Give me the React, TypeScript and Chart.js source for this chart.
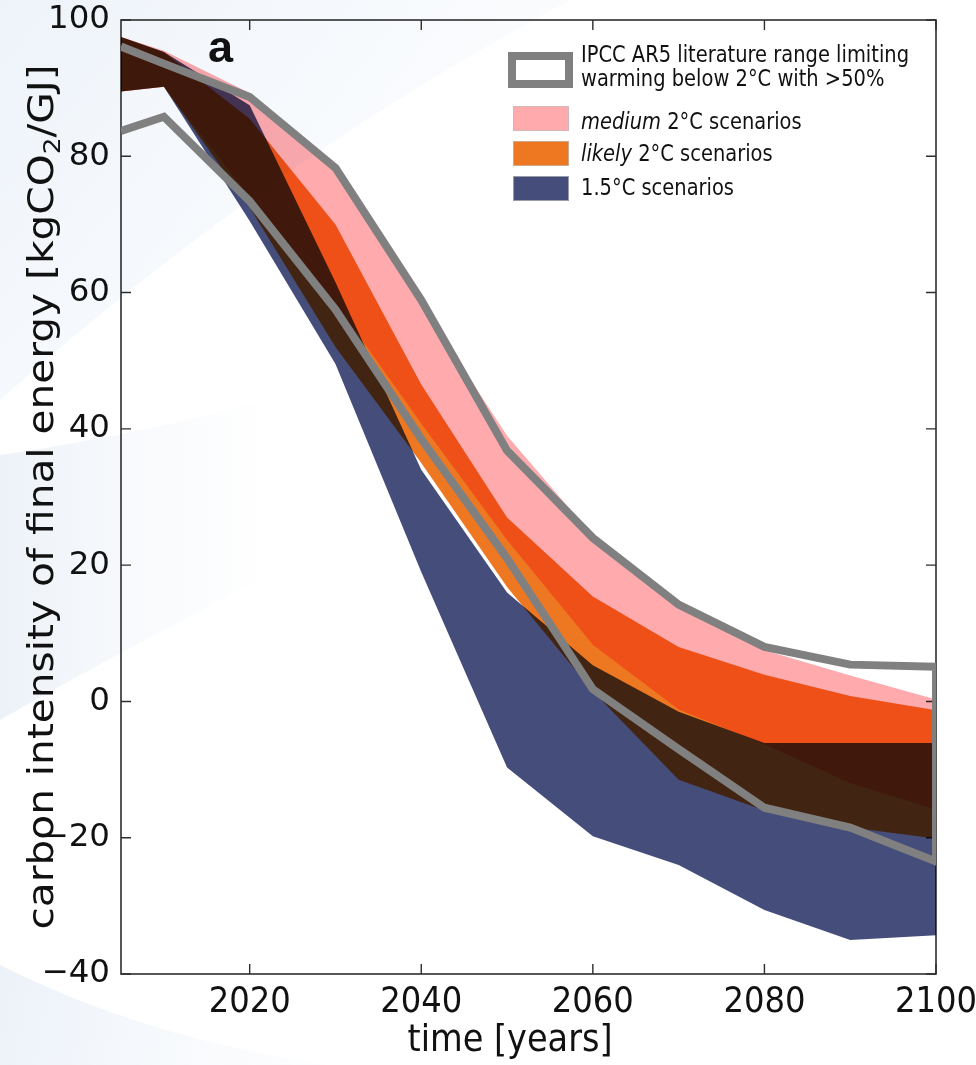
import { useEffect, useRef } from 'react';
import { Chart, registerables } from 'chart.js';

Chart.register(...registerables);

const W = 976;
const H = 1065;

// Scenario years shared by every range
const YEARS = [2005, 2010, 2020, 2030, 2040, 2050, 2060, 2070, 2080, 2090, 2100];

// IPCC AR5 literature range limiting warming below 2°C with >50% (outline)
const AR5_UPPER = [96.1, 93.6, 88.7, 78.3, 58.9, 36.8, 24.0, 14.2, 8.0, 5.4, 5.1];
const AR5_LOWER = [83.7, 85.8, 73.4, 57.5, 38.5, 21.0, 1.8, -7.0, -15.6, -18.5, -23.5];

// medium 2°C scenarios
const MEDIUM_UPPER = [97.5, 95.5, 89.3, 77.8, 58.3, 39.0, 24.3, 13.8, 7.5, 3.8, 0.3];
const MEDIUM_LOWER = [89.5, 90.2, 74.0, 58.5, 40.8, 23.7, 8.3, -1.2, -6.3, -12.0, -15.9];

// likely 2°C scenarios
const LIKELY_UPPER = [97.5, 95.3, 85.5, 70.0, 46.5, 27.0, 15.4, 8.0, 3.9, 0.8, -1.3];
const LIKELY_LOWER = [89.5, 90.2, 72.5, 52.0, 35.0, 16.8, 1.5, -11.5, -16.0, -18.5, -20.1];

// 1.5°C scenarios
const C15_UPPER = [97.5, 95.3, 87.5, 61.5, 34.0, 16.0, 5.3, -1.5, -6.1, -6.1, -6.1];
const C15_LOWER = [89.5, 90.2, 70.5, 49.5, 19.0, -9.7, -19.8, -24.0, -30.6, -35.0, -34.3];

const X_TICKS = [2020, 2040, 2060, 2080, 2100];
const Y_TICKS = [-40, -20, 0, 20, 40, 60, 80, 100];

const X_TITLE = 'time [years]';
const Y_TITLE_PARTS = [
  { text: 'carbon intensity of final energy [kgCO', sub: false },
  { text: '2', sub: true },
  { text: '/GJ]', sub: false },
];
const PANEL_LABEL = 'a';
const LEGEND_OUTLINE_LINES = ['IPCC AR5 literature range limiting', 'warming below 2°C with >50%'];

const PINK = '#ffaaad';
const ORANGE = '#ee7722';
const NAVY = '#454d7a';
const GRAY = '#808080';
const INK = '#111111';

const LEGEND_BANDS = [
  { color: PINK, emphasis: 'medium', rest: ' 2°C scenarios' },
  { color: ORANGE, emphasis: 'likely', rest: ' 2°C scenarios' },
  { color: NAVY, emphasis: '', rest: '1.5°C scenarios' },
];

const PROBE = 'Hamburgefonstiv 0123456789 [kgCO/GJ]';

function measureCtx(): CanvasRenderingContext2D {
  return document.createElement('canvas').getContext('2d') as CanvasRenderingContext2D;
}

function hasFamily(family: string): boolean {
  const ctx = measureCtx();
  return ['monospace', 'serif'].some((base) => {
    ctx.font = `40px ${base}`;
    const ref = ctx.measureText(PROBE).width;
    ctx.font = `40px "${family}", ${base}`;
    return Math.abs(ctx.measureText(PROBE).width - ref) > 0.5;
  });
}

function pickFamily(candidates: string[], fallback: string): string {
  for (const f of candidates) if (hasFamily(f)) return f;
  return fallback;
}

// font size that makes `text` span `target` pixels
function fitSize(text: string, family: string, target: number): number {
  const ctx = measureCtx();
  ctx.font = `100px "${family}"`;
  return (100 * target) / ctx.measureText(text).width;
}

const points = (ys: number[]) => YEARS.map((x, i) => ({ x, y: ys[i] }));

function paintBackdrop(ctx: CanvasRenderingContext2D) {
  ctx.save();
  ctx.fillStyle = '#ffffff';
  ctx.fillRect(0, 0, W, H);

  const g1 = ctx.createLinearGradient(0, 0, 480, 380);
  g1.addColorStop(0, 'rgba(226,235,246,0.6)');
  g1.addColorStop(1, 'rgba(240,245,251,0.15)');
  ctx.fillStyle = g1;
  ctx.beginPath();
  ctx.moveTo(0, 0);
  ctx.lineTo(570, 0);
  ctx.quadraticCurveTo(270, 160, 0, 400);
  ctx.closePath();
  ctx.fill();

  const g2 = ctx.createLinearGradient(0, 470, 280, 470);
  g2.addColorStop(0, 'rgba(222,231,242,0.55)');
  g2.addColorStop(1, 'rgba(236,242,249,0)');
  ctx.fillStyle = g2;
  ctx.beginPath();
  ctx.moveTo(0, 455);
  ctx.quadraticCurveTo(170, 430, 300, 390);
  ctx.lineTo(300, 560);
  ctx.quadraticCurveTo(140, 640, 0, 720);
  ctx.closePath();
  ctx.fill();

  const g3 = ctx.createLinearGradient(0, 1000, 320, 1065);
  g3.addColorStop(0, 'rgba(224,233,245,0.6)');
  g3.addColorStop(1, 'rgba(236,242,249,0.1)');
  ctx.fillStyle = g3;
  ctx.beginPath();
  ctx.moveTo(0, 965);
  ctx.quadraticCurveTo(150, 1040, 330, 1065);
  ctx.lineTo(0, 1065);
  ctx.closePath();
  ctx.fill();
  ctx.restore();
}

export default function App() {
  const canvasRef = useRef<HTMLCanvasElement>(null);

  useEffect(() => {
    document.body.style.margin = '0';
    const canvas = canvasRef.current;
    if (!canvas) return;

    const narrow = pickFamily(
      ['Liberation Sans Narrow', 'DejaVu Sans Condensed', 'Roboto Condensed'],
      'Roboto'
    );
    const wide = pickFamily(['DejaVu Sans', 'Verdana'], 'Noto Sans');
    const bold = pickFamily(['Liberation Sans', 'Open Sans'], 'Roboto');

    const yTickSize = fitSize('100', wide, 62);
    const xTickSize = fitSize('2020', narrow, 82);
    const legendSize = 23;
    const xTitleSize = 38;
    const yTitleSize = 36;

    // horizontal compression so each text spans its measured length
    const mctx = measureCtx();
    mctx.font = `${legendSize}px "${narrow}"`;
    const legendK = 328 / mctx.measureText(LEGEND_OUTLINE_LINES[0]).width;
    mctx.font = `${xTitleSize}px "${narrow}"`;
    const xTitleK = 205 / mctx.measureText(X_TITLE).width;

    const frameAndBlend = {
      id: 'frameAndBlend',
      beforeDraw(chart: Chart) {
        paintBackdrop(chart.ctx);
      },
      beforeDatasetsDraw(chart: Chart) {
        const { ctx, chartArea: a, scales } = chart;
        ctx.save();
        ctx.strokeStyle = '#2e2e2e';
        ctx.lineWidth = 1.6;
        ctx.strokeRect(a.left, a.top, a.right - a.left, a.bottom - a.top);
        ctx.lineWidth = 1.4;
        ctx.beginPath();
        for (const v of Y_TICKS) {
          const y = scales.y.getPixelForValue(v);
          ctx.moveTo(a.left, y);
          ctx.lineTo(a.left + 10, y);
          ctx.moveTo(a.right, y);
          ctx.lineTo(a.right - 10, y);
        }
        for (const v of X_TICKS) {
          const x = scales.x.getPixelForValue(v);
          ctx.moveTo(x, a.bottom);
          ctx.lineTo(x, a.bottom - 10);
          ctx.moveTo(x, a.top);
          ctx.lineTo(x, a.top + 10);
        }
        ctx.stroke();
        ctx.restore();
        // overlapping scenario ranges combine multiplicatively
        ctx.save();
        ctx.globalCompositeOperation = 'multiply';
      },
      beforeDatasetDraw(chart: Chart, args: { index: number }) {
        if (args.index === 0) chart.ctx.globalCompositeOperation = 'source-over';
      },
      afterDatasetsDraw(chart: Chart) {
        chart.ctx.restore();
      },
      afterDraw(chart: Chart) {
        const { ctx, chartArea: a } = chart;
        ctx.save();
        ctx.fillStyle = INK;

        // panel label
        ctx.font = `bold 45px "${bold}"`;
        ctx.textAlign = 'left';
        ctx.textBaseline = 'alphabetic';
        ctx.fillText(PANEL_LABEL, 208, 62);

        // x title
        ctx.save();
        ctx.translate(510, 1041);
        ctx.scale(xTitleK, 1);
        ctx.font = `${xTitleSize}px "${narrow}"`;
        ctx.textAlign = 'center';
        ctx.textBaseline = 'middle';
        ctx.fillText(X_TITLE, 0, 0);
        ctx.restore();

        // y title (rotated, with subscript)
        ctx.save();
        ctx.translate(44, (a.top + a.bottom) / 2);
        ctx.rotate(-Math.PI / 2);
        ctx.textAlign = 'left';
        ctx.textBaseline = 'middle';
        let total = 0;
        for (const p of Y_TITLE_PARTS) {
          ctx.font = `${p.sub ? yTitleSize * 0.65 : yTitleSize}px "${narrow}"`;
          total += ctx.measureText(p.text).width;
        }
        const yK = 865 / total;
        ctx.scale(yK, 1);
        let cx = -total / 2;
        for (const p of Y_TITLE_PARTS) {
          ctx.font = `${p.sub ? yTitleSize * 0.65 : yTitleSize}px "${narrow}"`;
          ctx.fillText(p.text, cx, p.sub ? yTitleSize * 0.28 : 0);
          cx += ctx.measureText(p.text).width;
        }
        ctx.restore();

        // legend
        ctx.textAlign = 'left';
        ctx.textBaseline = 'alphabetic';
        ctx.strokeStyle = GRAY;
        ctx.lineWidth = 8;
        ctx.strokeRect(512, 56, 57, 28);

        const legendText = (parts: { text: string; italic: boolean }[], base: number) => {
          ctx.save();
          ctx.translate(581, base);
          ctx.scale(legendK, 1);
          let tx = 0;
          for (const p of parts) {
            ctx.font = `${p.italic ? 'italic ' : ''}${legendSize}px "${narrow}"`;
            ctx.fillText(p.text, tx, 0);
            tx += ctx.measureText(p.text).width;
          }
          ctx.restore();
        };
        ctx.fillStyle = INK;
        legendText([{ text: LEGEND_OUTLINE_LINES[0], italic: false }], 62);
        legendText([{ text: LEGEND_OUTLINE_LINES[1], italic: false }], 86);

        const rowTop = [106, 141, 176];
        const rowBase = [129, 161, 195];
        LEGEND_BANDS.forEach((b, i) => {
          ctx.fillStyle = b.color;
          ctx.fillRect(513, rowTop[i], 56, 25);
          ctx.strokeStyle = 'rgba(190,190,190,0.7)';
          ctx.lineWidth = 1;
          ctx.strokeRect(513.5, rowTop[i] + 0.5, 55, 24);
          ctx.fillStyle = INK;
          const parts = [];
          if (b.emphasis) parts.push({ text: b.emphasis, italic: true });
          parts.push({ text: b.rest, italic: false });
          legendText(parts, rowBase[i]);
        });
        ctx.restore();
      },
    };

    const band = (data: number[], color: string | null, label: string) => ({
      label,
      data: points(data),
      borderWidth: 0,
      borderColor: 'transparent',
      pointRadius: 0,
      tension: 0,
      fill: color ? '-1' : false,
      backgroundColor: color ?? 'transparent',
    });

    const outline = [...points(AR5_UPPER), ...points(AR5_LOWER).reverse()];

    const chart = new Chart(canvas, {
      type: 'line',
      data: {
        datasets: [
          {
            label: 'IPCC AR5 literature range',
            data: outline,
            borderColor: GRAY,
            borderWidth: 8,
            borderJoinStyle: 'miter',
            borderCapStyle: 'butt',
            pointRadius: 0,
            tension: 0,
            fill: false,
          },
          band(MEDIUM_UPPER, null, 'medium upper'),
          band(MEDIUM_LOWER, PINK, 'medium 2°C scenarios'),
          band(LIKELY_UPPER, null, 'likely upper'),
          band(LIKELY_LOWER, ORANGE, 'likely 2°C scenarios'),
          band(C15_UPPER, null, '1.5°C upper'),
          band(C15_LOWER, NAVY, '1.5°C scenarios'),
        ] as any,
      },
      options: {
        animation: false,
        responsive: false,
        devicePixelRatio: 1,
        layout: { padding: { top: 20, right: 40, left: 0, bottom: 0 } },
        plugins: {
          legend: { display: false },
          tooltip: { enabled: false },
        },
        events: [],
        scales: {
          x: {
            type: 'linear',
            min: 2005,
            max: 2100,
            afterBuildTicks: (s: any) => {
              s.ticks = X_TICKS.map((value) => ({ value }));
            },
            afterFit: (s: any) => {
              s.height = H - 974;
              s.paddingLeft = 0;
              s.paddingRight = 0;
            },
            grid: { display: false, drawTicks: false },
            border: { display: false },
            ticks: {
              color: INK,
              padding: 11,
              maxRotation: 0,
              autoSkip: false,
              font: { family: narrow, size: xTickSize, lineHeight: 1 },
              callback: (v: any) => String(v),
            },
          },
          y: {
            type: 'linear',
            min: -40,
            max: 100,
            afterBuildTicks: (s: any) => {
              s.ticks = Y_TICKS.map((value) => ({ value }));
            },
            afterFit: (s: any) => {
              s.width = 121;
              s.paddingTop = 0;
              s.paddingBottom = 0;
            },
            grid: { display: false, drawTicks: false },
            border: { display: false },
            ticks: {
              color: INK,
              padding: 11,
              autoSkip: false,
              font: { family: wide, size: yTickSize, lineHeight: 1 },
              callback: (v: any) => (Number(v) < 0 ? '\u2212' + Math.abs(Number(v)) : String(v)),
            },
          },
        },
      } as any,
      plugins: [frameAndBlend as any],
    });

    return () => chart.destroy();
  }, []);

  return (
    <div style={{ width: W, height: H, position: 'relative' }}>
      <canvas ref={canvasRef} width={W} height={H} style={{ display: 'block' }} />
    </div>
  );
}
